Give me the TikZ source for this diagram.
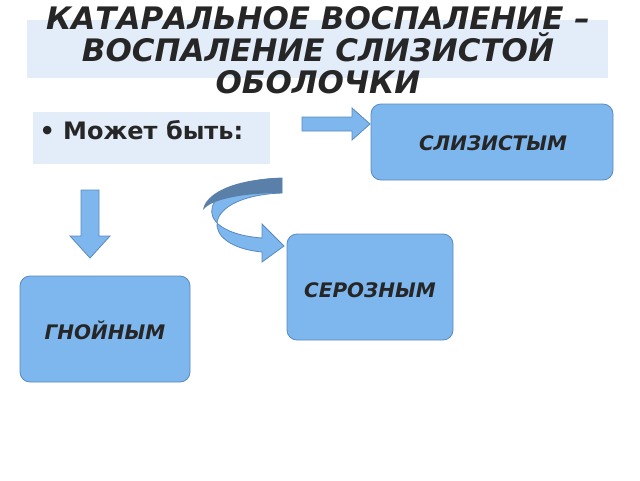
\documentclass[tikz,border=0pt]{standalone}
\usepackage{fontspec}
\setmainfont{DejaVu Sans}
\usetikzlibrary{positioning}
\definecolor{paleblue}{HTML}{E3ECF9}
\definecolor{boxblue}{HTML}{7EB6EE}
\definecolor{edgeblue}{HTML}{5A8AC0}
\definecolor{darkblue}{HTML}{5A80AA}
\definecolor{titlegray}{HTML}{262626}
\tikzset{
  panel/.style={fill=paleblue,draw=none},
  kindbox/.style={fill=boxblue,draw=edgeblue,rounded corners=10pt,line width=0.8pt},
  kindtext/.style={font=\bfseries\itshape\fontsize{20}{24}\selectfont,text=titlegray},
  arrowshape/.style={fill=boxblue,draw=edgeblue,line width=0.8pt}
}
\begin{document}
\begin{tikzpicture}[x=1pt,y=-1pt]
\useasboundingbox (0,0) rectangle (640,480);
% title
\fill[panel] (27,20) rectangle (608,78);
\node[align=center,font=\bfseries\itshape\fontsize{31}{32}\selectfont,text=titlegray,inner sep=0pt] (title) at (318,50)
  {КАТАРАЛЬНОЕ ВОСПАЛЕНИЕ –\\ВОСПАЛЕНИЕ СЛИЗИСТОЙ\\ОБОЛОЧКИ};
% bullet
\fill[panel] (33,112) rectangle (270,164);
\node[anchor=west,font=\bfseries\fontsize{24}{28}\selectfont,text=titlegray] (may) at (36,130) {•\ Может быть:};
% boxes
\draw[kindbox] (371,104) rectangle (613,180);
\node[kindtext] (mucous) at (493,143) {СЛИЗИСТЫМ};
\draw[kindbox] (287,234) rectangle (453,340);
\node[kindtext] (serous) at (370,290) {СЕРОЗНЫМ};
\draw[kindbox] (20,276) rectangle (190,382);
\node[kindtext] (purulent) at (105,330) {ГНОЙНЫМ};
% arrows
\draw[arrowshape] (302,117) -- (352,117) -- (352,108) -- (370,124) -- (352,140) -- (352,131) -- (302,131) -- cycle;
\draw[arrowshape] (81,190) -- (99,190) -- (99,236) -- (110,236) -- (90,258) -- (70,236) -- (81,236) -- cycle;
\draw[arrowshape] (282,178) .. controls (200,180) and (185,232) .. (262,238)
  -- (262,224) -- (284,246) -- (262,262) -- (262,252)
  .. controls (198,246) and (200,196) .. (282,193) -- cycle;
\fill[darkblue] (282,178) .. controls (230,179) and (205,195) .. (203,210)
  .. controls (210,200) and (240,193) .. (282,193) -- cycle;
\end{tikzpicture}
\end{document}
